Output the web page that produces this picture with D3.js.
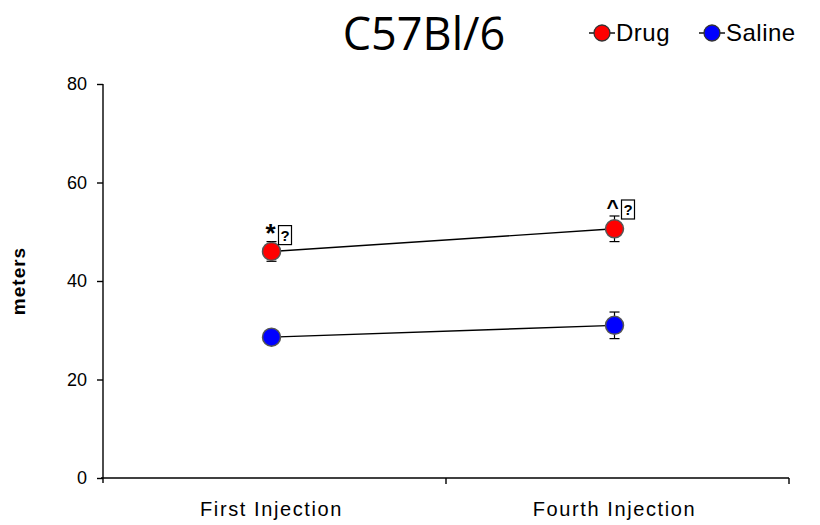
<!DOCTYPE html>
<html>
<head>
<meta charset="utf-8">
<script src="https://cdn.jsdelivr.net/npm/d3@7"></script>
<style>
  body { margin: 0; background: #fff; }
  text { font-family: "Liberation Sans", Arial, sans-serif; }
</style>
</head>
<body>
<div id="chart"></div>
<script>
const categories = ["First Injection", "Fourth Injection"];
const seriesNames = ["Drug", "Saline"];
const seriesColors = ["#ff0000", "#0000ff"];
const drugValues = [46.0, 50.6];
const drugErrors = [2.0, 2.6];
const salineValues = [28.6, 31.0];
const salineErrors = [0.6, 2.7];
const yTicks = [0, 20, 40, 60, 80];
const marks = ["*", "^"];

const width = 820, height = 525;
const margin = {top: 84, right: 31, bottom: 47, left: 103};

const svg = d3.select("#chart").append("svg")
    .attr("width", width)
    .attr("height", height);

const x = d3.scaleBand()
    .domain(categories)
    .range([margin.left, width - margin.right]);

const y = d3.scaleLinear()
    .domain([0, 80])
    .range([height - margin.bottom, margin.top]);

const shift = -3;
const cx = c => x(c) + x.bandwidth() / 2 + shift;

// y axis
const yAxis = svg.append("g")
    .attr("transform", `translate(${margin.left},0)`)
    .call(d3.axisLeft(y).tickValues(yTicks).tickSize(6).tickPadding(10));
yAxis.select(".domain").attr("stroke", "#000").attr("stroke-width", 1.4)
    .attr("d", `M0,${y(80)}V${y(0) + 5}`);
yAxis.selectAll(".tick line").attr("stroke-width", 1.4);
yAxis.selectAll(".tick text").style("font-size", "18px").attr("fill", "#000");

// x axis
const xAxis = svg.append("g")
    .attr("transform", `translate(0,${y(0)})`)
    .call(d3.axisBottom(x).tickSize(0).tickPadding(24));
xAxis.select(".domain").attr("stroke", "#000").attr("stroke-width", 1.4)
    .attr("d", `M${margin.left - 2},0H${width - margin.right}`);
xAxis.selectAll(".tick text").style("font-size", "20px").attr("fill", "#000")
    .attr("x", shift)
    .style("letter-spacing", "1.6px");
// category separators
xAxis.selectAll(".sep")
    .data(categories)
    .join("line")
    .attr("class", "sep")
    .attr("x1", d => x(d) + x.bandwidth())
    .attr("x2", d => x(d) + x.bandwidth())
    .attr("y1", 0).attr("y2", 6)
    .attr("stroke", "#000").attr("stroke-width", 1.4);

// y label
svg.append("text")
    .attr("transform", `translate(25,${(y(0) + y(80)) / 2}) rotate(-90)`)
    .attr("text-anchor", "middle")
    .style("font-size", "19px")
    .style("font-weight", "bold")
    .style("letter-spacing", "1px")
    .text("meters");

// title
svg.append("text")
    .attr("x", 424).attr("y", 50)
    .attr("text-anchor", "middle")
    .style("font-family", "'Open Sans', 'DejaVu Sans', sans-serif")
    .style("font-size", "45px")
    .text("C57Bl/6");

const series = [
  {name: seriesNames[0], color: seriesColors[0], values: drugValues, errors: drugErrors},
  {name: seriesNames[1], color: seriesColors[1], values: salineValues, errors: salineErrors}
];

const line = d3.line()
    .x(d => cx(d.cat))
    .y(d => y(d.v));

series.forEach(s => {
  const pts = categories.map((c, i) => ({cat: c, v: s.values[i], e: s.errors[i]}));
  const g = svg.append("g");
  g.append("path")
      .attr("d", line(pts))
      .attr("fill", "none")
      .attr("stroke", "#000")
      .attr("stroke-width", 1.4);
  const eb = g.selectAll(".eb").data(pts).join("g");
  eb.append("line")
      .attr("x1", d => cx(d.cat)).attr("x2", d => cx(d.cat))
      .attr("y1", d => y(d.v + d.e)).attr("y2", d => y(d.v - d.e))
      .attr("stroke", "#000").attr("stroke-width", 1.2);
  eb.append("line")
      .attr("x1", d => cx(d.cat) - 5).attr("x2", d => cx(d.cat) + 5)
      .attr("y1", d => y(d.v + d.e)).attr("y2", d => y(d.v + d.e))
      .attr("stroke", "#000").attr("stroke-width", 1.2);
  eb.append("line")
      .attr("x1", d => cx(d.cat) - 5).attr("x2", d => cx(d.cat) + 5)
      .attr("y1", d => y(d.v - d.e)).attr("y2", d => y(d.v - d.e))
      .attr("stroke", "#000").attr("stroke-width", 1.2);
  g.selectAll("circle").data(pts).join("circle")
      .attr("cx", d => cx(d.cat))
      .attr("cy", d => y(d.v))
      .attr("r", 9)
      .attr("fill", s.color)
      .attr("stroke", "#555")
      .attr("stroke-width", 1.5);
});

// significance marks above drug points
const ann = svg.append("g").selectAll("g")
    .data(categories.map((c, i) => ({cat: c, m: marks[i], top: drugValues[i] + drugErrors[i]})))
    .join("g")
    .attr("transform", d => `translate(${cx(d.cat)},${y(d.top) + 3})`);
ann.append("text")
    .attr("x", d => d.m === "*" ? -1 : -2)
    .attr("y", d => d.m === "*" ? -3 : -5)
    .attr("text-anchor", "middle")
    .style("font-size", d => d.m === "*" ? "26px" : "21px")
    .style("font-weight", "bold")
    .text(d => d.m);
ann.append("rect")
    .attr("x", 7).attr("y", -19).attr("width", 13).attr("height", 19)
    .attr("fill", "#fff").attr("stroke", "#000").attr("stroke-width", 1.2);
ann.append("text")
    .attr("x", 13.5).attr("y", -4)
    .attr("text-anchor", "middle")
    .style("font-size", "15px")
    .style("font-weight", "bold")
    .text("?");

// legend
const legend = svg.append("g").selectAll("g")
    .data(series)
    .join("g")
    .attr("transform", (d, i) => `translate(${589 + i * 110},33)`);
legend.append("line")
    .attr("x1", 0).attr("x2", 26).attr("y1", 0).attr("y2", 0)
    .attr("stroke", "#000").attr("stroke-width", 1.4);
legend.append("circle")
    .attr("cx", 13).attr("cy", 0).attr("r", 8)
    .attr("fill", d => d.color).attr("stroke", "#333").attr("stroke-width", 1.3);
legend.append("text")
    .attr("x", 27).attr("y", 8)
    .style("font-size", "24px")
    .style("letter-spacing", "0.5px")
    .text(d => d.name);
</script>
</body>
</html>
